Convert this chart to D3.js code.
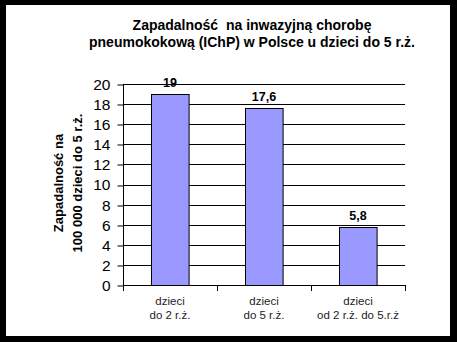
<!DOCTYPE html>
<html>
<head>
<meta charset="utf-8">
<script src="https://cdn.jsdelivr.net/npm/d3@7/dist/d3.min.js"></script>
<style>
  html, body { margin: 0; padding: 0; background: #000; }
  svg { display: block; }
  text { font-family: Arial, "Liberation Sans", sans-serif; }
</style>
</head>
<body>
<svg id="chart" width="457" height="342"></svg>
<script>
// Chart data
const categories = [
  ["dzieci", "do 2 r.ż."],
  ["dzieci", "do 5 r.ż."],
  ["dzieci", "od 2 r.ż. do 5.r.ż"]
];
const values = [19, 17.6, 5.8];
const valueLabels = ["19", "17,6", "5,8"];
const yTicks = [0, 2, 4, 6, 8, 10, 12, 14, 16, 18, 20];
const titleLines = ["Zapadalność  na inwazyjną chorobę", "pneumokokową (IChP) w Polsce u dzieci do 5 r.ż."];
const yTitleLines = ["Zapadalność na", "100 000 dzieci do 5 r.ż."];

const svg = d3.select("#chart");

// White page inside the black frame
svg.append("rect")
  .attr("x", 6).attr("y", 5)
  .attr("width", 444).attr("height", 331)
  .attr("fill", "#fff");

const plot = { left: 123, right: 405, top: 84, bottom: 285 };

const x = d3.scaleBand()
  .domain(d3.range(categories.length))
  .range([plot.left, plot.right])
  .paddingInner(0.6)
  .paddingOuter(0.3);

const y = d3.scaleLinear()
  .domain([0, 20])
  .range([plot.bottom, plot.top]);

// Horizontal gridlines
svg.append("g")
  .selectAll("line")
  .data(yTicks.filter(d => d > 0))
  .join("line")
  .attr("x1", plot.left).attr("x2", plot.right)
  .attr("y1", d => Math.round(y(d)) + 0.5)
  .attr("y2", d => Math.round(y(d)) + 0.5)
  .attr("stroke", "#000").attr("stroke-width", 1);

// Y axis
const yAxis = svg.append("g")
  .attr("transform", `translate(${plot.left + 0.5},0.5)`)
  .call(d3.axisLeft(y).tickValues(yTicks).tickSize(6).tickPadding(7).tickFormat(d3.format("d")));
yAxis.select(".domain").attr("stroke", "#000").attr("d", `M0,${plot.top}V${plot.bottom}`);
yAxis.selectAll(".tick line").attr("stroke", "#000");
yAxis.selectAll(".tick line").attr("transform", d => `translate(0,${Math.round(y(d)) - y(d)})`);
yAxis.selectAll(".tick text")
  .attr("fill", "#000")
  .style("font-size", "15.5px")
  .style("font-family", "Arial, 'Liberation Sans', sans-serif");

// Bars
svg.append("g")
  .selectAll("rect")
  .data(values)
  .join("rect")
  .attr("x", (d, i) => Math.round(x(i)) + 0.5)
  .attr("y", d => Math.round(y(d)) + 0.5)
  .attr("width", x.bandwidth())
  .attr("height", d => Math.round(y(0)) - Math.round(y(d)))
  .attr("fill", "#9999FF")
  .attr("stroke", "#000").attr("stroke-width", 1);

// Value labels
svg.append("g")
  .selectAll("text")
  .data(values)
  .join("text")
  .attr("x", (d, i) => x(i) + x.bandwidth() / 2)
  .attr("y", d => y(d) - 7)
  .attr("text-anchor", "middle")
  .style("font-size", "12.5px")
  .style("font-weight", "bold")
  .text((d, i) => valueLabels[i]);

// X axis with separators between categories
const xBound = d3.range(categories.length + 1).map(i => plot.left + i * x.step());
svg.append("line")
  .attr("x1", plot.left).attr("x2", plot.right + 1)
  .attr("y1", plot.bottom + 0.5).attr("y2", plot.bottom + 0.5)
  .attr("stroke", "#000");
svg.append("g")
  .selectAll("line")
  .data(xBound)
  .join("line")
  .attr("x1", d => Math.round(d) + 0.5).attr("x2", d => Math.round(d) + 0.5)
  .attr("y1", plot.bottom).attr("y2", plot.bottom + 6)
  .attr("stroke", "#000");

// Category labels
const catG = svg.append("g")
  .selectAll("text")
  .data(categories)
  .join("text")
  .attr("text-anchor", "middle")
  .attr("fill", "#222")
  .style("font-size", "11.5px");
catG.each(function(lines, i) {
  const t = d3.select(this);
  lines.forEach((ln, k) => {
    t.append("tspan")
      .attr("x", x(i) + x.bandwidth() / 2)
      .attr("y", 305 + k * 14)
      .text(ln);
  });
});

// Chart title
svg.append("g")
  .selectAll("text")
  .data(titleLines)
  .join("text")
  .attr("x", 252)
  .attr("y", (d, i) => 29.5 + i * 17.5)
  .attr("text-anchor", "middle")
  .style("font-size", "14px")
  .style("font-weight", "bold")
  .style("white-space", "pre")
  .text(d => d);

// Y axis title
svg.append("g")
  .attr("transform", "translate(0,183) rotate(-90)")
  .selectAll("text")
  .data(yTitleLines)
  .join("text")
  .attr("x", 0)
  .attr("y", (d, i) => 63 + i * 19)
  .attr("text-anchor", "middle")
  .style("font-size", "13px")
  .style("font-weight", "bold")
  .text(d => d);
</script>
</body>
</html>
